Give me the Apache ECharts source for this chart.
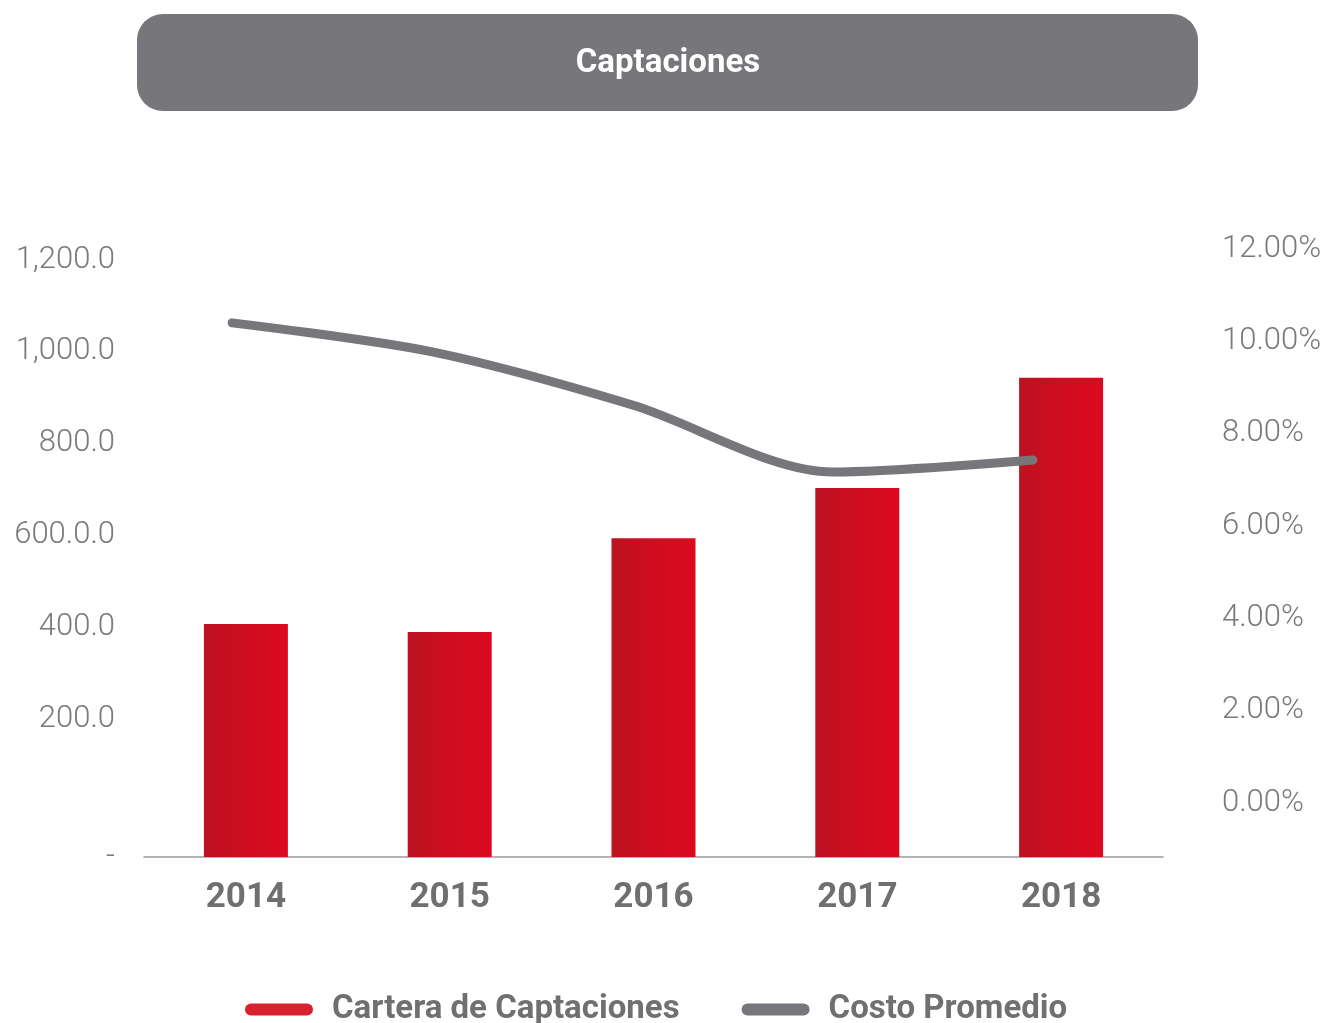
<!DOCTYPE html>
<html>
<head>
<meta charset="utf-8">
<script src="https://cdn.jsdelivr.net/npm/echarts@6/dist/echarts.min.js"></script>
<style>
html,body{margin:0;padding:0;background:#fff;}
#main{width:1327px;height:1023px;}
</style>
</head>
<body>
<div id="main"></div>
<script>
// ---- data ----
const titleText = 'Captaciones';
const categories = ['2014', '2015', '2016', '2017', '2018'];
const carteraName = 'Cartera de Captaciones';
const costoName = 'Costo Promedio';
const carteraValues = [407, 390, 594, 703, 943];
const costoValues = [10.40, 9.77, 8.62, 7.17, 7.43];
const leftTickValues = [-100, 200, 400, 600, 800, 1000, 1200];
const leftTickLabels = ['-', '200.0', '400.0', '600.0.0', '800.0', '1,000.0', '1,200.0'];
const rightTickValues = [0, 2, 4, 6, 8, 10, 12];
const rightTickLabels = ['0.00%', '2.00%', '4.00%', '6.00%', '8.00%', '10.00%', '12.00%'];

function lookup(values, labels, v) {
  for (let i = 0; i < values.length; i++) {
    if (Math.abs(values[i] - v) < 1e-6) return labels[i];
  }
  return '';
}

const chart = echarts.init(document.getElementById('main'), null, {renderer: 'canvas'});
const capsule = 'path://M6,0 L62,0 A6,6 0 0 1 62,12 L6,12 A6,6 0 0 1 6,0 Z';

chart.setOption({
  animation: false,
  backgroundColor: '#ffffff',
  graphic: [
    {
      type: 'group',
      left: 137, top: 14,
      children: [
        { type: 'rect', shape: {x: 0, y: 0, width: 1061, height: 97, r: 26},
          style: {fill: '#77777b'} },
        { type: 'text', x: 531, y: 50,
          style: { text: titleText, fill: '#ffffff', font: "bold 33px Roboto, sans-serif",
                   align: 'center', verticalAlign: 'middle' } }
      ]
    }
  ],
  legend: {
    left: 240, top: 988,
    itemWidth: 68, itemHeight: 12, itemGap: 62,
    data: [
      {name: carteraName, icon: capsule, itemStyle: {color: '#d8202f'}},
      {name: costoName, icon: capsule, itemStyle: {color: '#77777b'}}
    ],
    textStyle: { fontFamily: 'Roboto', fontWeight: 'bold', fontSize: 33, color: '#707070',
                 padding: [0, 0, 0, 14] }
  },
  grid: [
    {left: 144, right: 164, top: 240, bottom: 166, containLabel: false},
    {left: 132, right: 194, top: 241.6, bottom: 164.6, containLabel: false}
  ],
  xAxis: [
    {
      type: 'category', gridIndex: 0, data: categories,
      axisLine: {onZero: false, lineStyle: {color: '#9a9a9a', width: 1.5}},
      axisTick: {show: false},
      axisLabel: {margin: 24, fontFamily: 'Roboto', fontWeight: 'bold', fontSize: 35, color: '#6f6f6f'}
    },
    {
      type: 'category', gridIndex: 1, data: categories, show: false
    }
  ],
  yAxis: [
    {
      type: 'value', gridIndex: 0, position: 'left',
      min: -100, max: 1243, interval: 100, startValue: -100,
      splitLine: {show: false}, axisLine: {show: false}, axisTick: {show: false},
      axisLabel: {
        margin: 29, fontFamily: 'Roboto', fontWeight: 300, fontSize: 31, color: '#7a7a7a',
        padding: [6, 0, 0, 0],
        formatter: v => lookup(leftTickValues, leftTickLabels, v)
      }
    },
    {
      type: 'value', gridIndex: 1, position: 'right',
      min: -1.2, max: 12.16, interval: 0.4,
      splitLine: {show: false}, axisLine: {show: false}, axisTick: {show: false},
      axisLabel: {
        margin: 89, fontFamily: 'Roboto', fontWeight: 300, fontSize: 31, color: '#7a7a7a',
        padding: [6, 0, 0, 0],
        formatter: v => lookup(rightTickValues, rightTickLabels, v)
      }
    }
  ],
  series: [
    {
      name: carteraName, type: 'bar', xAxisIndex: 0, yAxisIndex: 0,
      data: carteraValues, barWidth: 84,
      itemStyle: {
        color: new echarts.graphic.LinearGradient(0, 0, 1, 0, [
          {offset: 0, color: '#bb1221'},
          {offset: 0.5, color: '#cf0d20'},
          {offset: 1, color: '#dc0a1f'}
        ])
      }
    },
    {
      name: costoName, type: 'line', xAxisIndex: 1, yAxisIndex: 1,
      data: costoValues, smooth: 0.3, showSymbol: false, symbol: 'none',
      lineStyle: {color: '#77777b', width: 9, cap: 'round', join: 'round'},
      itemStyle: {color: '#77777b'},
      z: 5
    }
  ]
});
</script>
</body>
</html>
